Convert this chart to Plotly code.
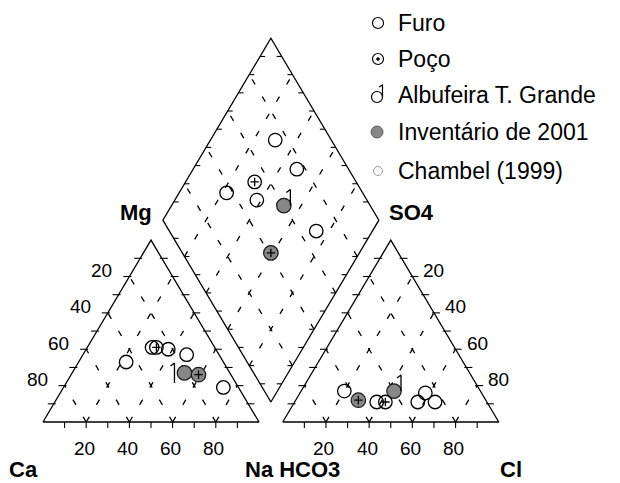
import numpy as np
import plotly.graph_objects as go

# Cation composition (% of meq/l) for each sample
ca = [45, 29, 27, 22, 15, 21, 7, 15]
mg = [33, 41, 41, 40, 37, 27, 19, 26]
na = [22, 30, 32, 38, 48, 52, 74, 59]
# Anion composition (% of meq/l) for each sample
hco3 = [63, 26, 47, 51, 24, 40, 32, 59]
so4 = [17, 16, 11, 11, 11, 17, 11, 12]
cl = [20, 58, 42, 38, 65, 43, 57, 29]
# Origin of each sample
kind = ["furo", "furo", "poco", "furo", "furo", "inv_albufeira", "furo", "inv_poco"]

tick_values = [20, 40, 60, 80]
legend_labels = ["Furo", "Poço", "Albufeira T. Grande", "Inventário de 2001", "Chambel (1999)"]

# ---- Piper geometry (triangle side = 100 units) ----
GAP = 11.0
H = np.sqrt(3) / 2
SX, SY = 2.16, 2.10          # pixels per unit
X0, Y0 = 43, 422             # pixel position of the Ca corner
W, HT = 620, 483
FONT = "Liberation Sans, Arial, sans-serif"


def cat_xy(n, m):
    return n + m / 2, m * H


def an_xy(c, s):
    return 100 + GAP + c + s / 2, s * H


def dia_xy(n, h):
    return (n + 200 + GAP - h) / 2, H * (200 + GAP - h - n)


def add_seg(xs, ys, p, q):
    xs += [p[0], q[0], None]
    ys += [p[1], q[1], None]


fig = go.Figure()

# ---- dashed internal grid ----
gx, gy = [], []
for v in tick_values:
    add_seg(gx, gy, cat_xy(v, 0), cat_xy(v, 100 - v))
    add_seg(gx, gy, cat_xy(100 - v, 0), cat_xy(0, 100 - v))
    add_seg(gx, gy, an_xy(v, 0), an_xy(v, 100 - v))
    add_seg(gx, gy, an_xy(100 - v, 0), an_xy(0, 100 - v))
    add_seg(gx, gy, dia_xy(v, 100), dia_xy(v, 0))
    add_seg(gx, gy, dia_xy(100, v), dia_xy(0, v))
fig.add_trace(go.Scatter(x=gx, y=gy, mode="lines", hoverinfo="skip",
                         line=dict(color="black", width=1.3, dash="6px,14px")))

# ---- outlines ----
ox, oy = [], []
for pts in ([cat_xy(0, 0), cat_xy(100, 0), cat_xy(0, 100), cat_xy(0, 0)],
            [an_xy(0, 0), an_xy(100, 0), an_xy(0, 100), an_xy(0, 0)],
            [dia_xy(100, 100), dia_xy(0, 100), dia_xy(0, 0), dia_xy(100, 0), dia_xy(100, 100)]):
    ox += [p[0] for p in pts] + [None]
    oy += [p[1] for p in pts] + [None]
fig.add_trace(go.Scatter(x=ox, y=oy, mode="lines", hoverinfo="skip",
                         line=dict(color="black", width=1.3)))

# ---- tick marks every 10 % ----
tx, ty = [], []
for k in range(10, 100, 10):
    for f in (cat_xy, an_xy):
        x, y = f(k, 0)
        add_seg(tx, ty, (x, y), (x, y - 6 / SY))
        x, y = f(0, k)
        add_seg(tx, ty, (x - 6 / SX, y), (x + 2 / SX, y))
        x, y = f(100 - k, k)
        add_seg(tx, ty, (x - 2 / SX, y), (x + 6 / SX, y))
    for p, d in ((dia_xy(k, 100), 1), (dia_xy(0, k), 1), (dia_xy(k, 0), -1), (dia_xy(100, k), -1)):
        add_seg(tx, ty, p, (p[0] + d * 5 / SX, p[1]))
fig.add_trace(go.Scatter(x=tx, y=ty, mode="lines", hoverinfo="skip",
                         line=dict(color="black", width=1.1)))

# ---- sample positions in the three fields ----
pos = {"L": [], "R": [], "D": []}
for i in range(len(kind)):
    pos["L"].append(cat_xy(na[i], mg[i]))
    pos["R"].append(an_xy(cl[i], so4[i]))
    pos["D"].append(dia_xy(na[i], hco3[i]))

open_x, open_y, gray_x, gray_y, cross_x, cross_y = [], [], [], [], [], []
stem_x, stem_y = [], []
# stem of the Albufeira symbol: (dx, y_bottom, y_top) in pixels
stem_geom = {"L": (-10, 10, -10), "R": (7, 0, -16), "D": (6.5, 0, -16)}
for field, pts in pos.items():
    for (x, y), k in zip(pts, kind):
        if k in ("furo", "poco"):
            open_x.append(x); open_y.append(y)
        else:
            gray_x.append(x); gray_y.append(y)
        if k in ("poco", "inv_poco"):
            cross_x.append(x); cross_y.append(y)
        if k == "inv_albufeira":
            dx, yb, yt = stem_geom[field]
            sx = x + dx / SX
            stem_x += [sx - 4 / SX, sx, sx, None]
            stem_y += [y - (yt + 3) / SY, y - yt / SY, y - yb / SY, None]

fig.add_trace(go.Scatter(x=gray_x, y=gray_y, mode="markers", hoverinfo="skip",
                         marker=dict(symbol="circle", size=14.5, color="#878787",
                                     line=dict(color="#1a1a1a", width=1.2))))
fig.add_trace(go.Scatter(x=open_x, y=open_y, mode="markers", hoverinfo="skip",
                         marker=dict(symbol="circle-open", size=13.5, color="black",
                                     line=dict(width=1.3))))
fig.add_trace(go.Scatter(x=cross_x, y=cross_y, mode="markers", hoverinfo="skip",
                         marker=dict(symbol="cross-thin-open", size=6, color="black",
                                     line=dict(width=1.3))))
fig.add_trace(go.Scatter(x=stem_x, y=stem_y, mode="lines", hoverinfo="skip",
                         line=dict(color="black", width=1.3)))

# ---- tick labels ----
ann = []
lab_font = dict(family=FONT, size=19, color="black")
for v in tick_values:
    x, y = cat_xy(0, 100 - v)
    ann.append(dict(x=x, y=y, text=str(v), xanchor="right", yanchor="middle",
                    xshift=-16, yshift=6, font=lab_font))
    x, y = an_xy(v, 100 - v)
    ann.append(dict(x=x, y=y, text=str(v), xanchor="left", yanchor="middle",
                    xshift=10, yshift=6, font=lab_font))
    for f in (cat_xy, an_xy):
        x, y = f(v, 0)
        ann.append(dict(x=x, y=y, text=str(v), xanchor="center", yanchor="middle",
                        xshift=-2, yshift=-26, font=lab_font))

# ---- corner titles ----
title_font = dict(family=FONT, size=22, color="black", weight="bold")
titles = [("Mg", cat_xy(0, 100), "center", "middle", -15, 28),
          ("SO4", an_xy(0, 100), "center", "middle", 21, 28),
          ("Ca", cat_xy(0, 0), "left", "bottom", -35, -61),
          ("Na HCO3", cat_xy(100, 0), "left", "bottom", -15, -61),
          ("Cl", an_xy(100, 0), "left", "bottom", 0, -61)]
for txt, (x, y), xa, ya, xs, ys in titles:
    ann.append(dict(x=x, y=y, text=txt, xanchor=xa, yanchor=ya,
                    xshift=xs, yshift=ys, font=title_font, borderpad=0))
for a in ann:
    a["showarrow"] = False
    a.setdefault("borderpad", 0)

# ---- legend drawn in paper coordinates ----
shapes = []
leg_font = dict(family=FONT, size=23, color="black")
LEG_SX, LEG_TX = 378, 396
leg_rows = [23, 59, 95, 132, 171]


def pp(px, py):
    return px / W, 1 - py / HT


def circ(cx, cy, r, line_col, fill, lw):
    x0, y0 = pp(cx - r, cy + r)
    x1, y1 = pp(cx + r, cy - r)
    return dict(type="circle", xref="paper", yref="paper", x0=x0, y0=y0, x1=x1, y1=y1,
                line=dict(color=line_col, width=lw), fillcolor=fill)


for label, ry in zip(legend_labels, leg_rows):
    if label == "Furo":
        shapes.append(circ(LEG_SX, ry, 5.5, "black", "rgba(0,0,0,0)", 1.2))
    elif label == "Poço":
        shapes.append(circ(LEG_SX, ry, 5.5, "black", "rgba(0,0,0,0)", 1.2))
        shapes.append(circ(LEG_SX, ry, 1.3, "black", "black", 1))
    elif label.startswith("Albufeira"):
        shapes.append(circ(LEG_SX - 1, ry + 2, 5.5, "black", "rgba(0,0,0,0)", 1.2))
        a = pp(LEG_SX + 4.5, ry + 2)
        b = pp(LEG_SX + 4.5, ry - 10)
        c = pp(LEG_SX + 1, ry - 8)
        shapes.append(dict(type="path", xref="paper", yref="paper",
                           path=f"M {c[0]} {c[1]} L {b[0]} {b[1]} L {a[0]} {a[1]}",
                           line=dict(color="black", width=1.2)))
    elif label.startswith("Invent"):
        shapes.append(circ(LEG_SX - 1, ry, 6, "#606060", "#878787", 1))
    else:
        shapes.append(circ(LEG_SX, ry, 4.5, "#9a9a9a", "rgba(0,0,0,0)", 1))
    tx_, ty_ = pp(LEG_TX, ry)
    ann.append(dict(x=tx_, y=ty_, xref="paper", yref="paper", text=label,
                    xanchor="left", yanchor="middle", showarrow=False, font=leg_font))

fig.update_layout(
    width=W, height=HT,
    margin=dict(l=0, r=0, t=0, b=0),
    paper_bgcolor="white", plot_bgcolor="white",
    showlegend=False,
    xaxis=dict(range=[-X0 / SX, (W - X0) / SX], visible=False, fixedrange=True),
    yaxis=dict(range=[(Y0 - HT) / SY, Y0 / SY], visible=False, fixedrange=True),
    annotations=ann,
    shapes=shapes,
)

fig.write_html("out.html")
